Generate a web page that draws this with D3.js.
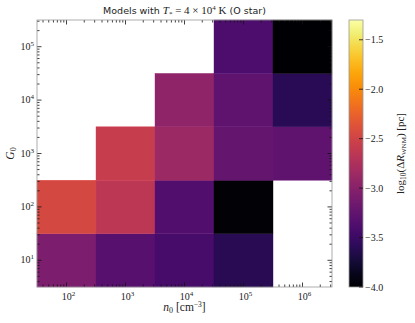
<!DOCTYPE html>
<html>
<head>
<meta charset="utf-8">
<script src="https://cdn.jsdelivr.net/npm/d3@7"></script>
<style>
  body { margin: 0; background: #fff; }
  svg text { font-family: "Liberation Serif", "DejaVu Serif", serif; fill: #222; }
  svg text.title { font-family: "DejaVu Sans", sans-serif; }
</style>
</head>
<body>
<svg id="chart" width="415" height="323"></svg>
<script>

// densities (x), radiation field (y), log10 of width, null where no model
var nExp = [2, 3, 4, 5, 6];
var gExp = [1, 2, 3, 4, 5];
// rows follow gExp (G0 = 10^1 ... 10^5), columns follow nExp
var logDR = [
  [-3.08, -3.32, -3.43, -3.62, null],
  [-2.46, -2.65, -3.35, -3.97, null],
  [null, -2.57, -2.87, -3.24, -3.27],
  [null, null, -2.95, -3.27, -3.60],
  [null, null, null, -3.38, -4.00]
];
var cbTicks = [-1.5, -2.0, -2.5, -3.0, -3.5, -4.0];
var vmin = -4.0, vmax = -1.30;

var svg = d3.select("#chart");
var pl = 37, pr = 332, pt = 20, pb = 287;

var x = d3.scaleLog().domain([Math.pow(10, 1.5), Math.pow(10, 6.5)]).range([pl, pr]);
var y = d3.scaleLog().domain([Math.pow(10, 0.5), Math.pow(10, 5.5)]).range([pb, pt]);
var color = d3.scaleSequential(d3.interpolateInferno).domain([vmin, vmax]);

// cells
var cells = [];
logDR.forEach(function(row, i) {
  row.forEach(function(v, j) {
    if (v !== null) cells.push({ n: nExp[j], g: gExp[i], v: v });
  });
});

svg.append("g").selectAll("rect")
  .data(cells)
  .enter().append("rect")
    .attr("x", function(d) { return x(Math.pow(10, d.n - 0.5)); })
    .attr("y", function(d) { return y(Math.pow(10, d.g + 0.5)); })
    .attr("width", function(d) { return x(Math.pow(10, d.n + 0.5)) - x(Math.pow(10, d.n - 0.5)); })
    .attr("height", function(d) { return y(Math.pow(10, d.g - 0.5)) - y(Math.pow(10, d.g + 0.5)); })
    .attr("fill", function(d) { return color(d.v); })
    .attr("stroke", function(d) { return d3.color(color(d.v)).brighter(0.25); })
    .attr("stroke-width", 0.4);

// minor/major tick values
function logTicks(lo, hi) {
  var out = [];
  for (var e = Math.floor(lo); e <= Math.ceil(hi); e++) {
    for (var m = 1; m <= 9; m++) {
      var val = m * Math.pow(10, e);
      var le = Math.log10(val);
      if (le >= lo && le <= hi) out.push({ v: val, major: m === 1 });
    }
  }
  return out;
}
var xt = logTicks(1.5, 6.5), yt = logTicks(0.5, 5.5);

var ticks = svg.append("g").attr("stroke", "#111").attr("stroke-width", 0.8);
xt.forEach(function(t) {
  var len = t.major ? 4.5 : 2.5, px = x(t.v);
  ticks.append("line").attr("x1", px).attr("x2", px).attr("y1", pb).attr("y2", pb - len);
  ticks.append("line").attr("x1", px).attr("x2", px).attr("y1", pt).attr("y2", pt + len);
});
yt.forEach(function(t) {
  var len = t.major ? 4.5 : 2.5, py = y(t.v);
  ticks.append("line").attr("y1", py).attr("y2", py).attr("x1", pl).attr("x2", pl + len);
  ticks.append("line").attr("y1", py).attr("y2", py).attr("x1", pr).attr("x2", pr - len);
});

svg.append("rect")
  .attr("x", pl).attr("y", pt)
  .attr("width", pr - pl).attr("height", pb - pt)
  .attr("fill", "none").attr("stroke", "#999").attr("stroke-width", 0.8);

// tick labels
function powLabel(sel, e) {
  sel.append("tspan").text("10");
  sel.append("tspan").attr("dy", -4).attr("font-size", 7).text(e);
}
nExp.forEach(function(e) {
  var t = svg.append("text")
    .attr("x", x(Math.pow(10, e)) + 2).attr("y", pb + 13)
    .attr("text-anchor", "middle").attr("font-size", 10);
  powLabel(t, e);
});
gExp.forEach(function(e) {
  var t = svg.append("text")
    .attr("x", pl - 3).attr("y", y(Math.pow(10, e)) + 3)
    .attr("text-anchor", "end").attr("font-size", 10);
  powLabel(t, e);
});

// axis labels
var xl = svg.append("text")
  .attr("x", (pl + pr) / 2).attr("y", 311)
  .attr("text-anchor", "middle").attr("font-size", 11.5);
xl.append("tspan").attr("font-style", "italic").text("n");
xl.append("tspan").attr("font-size", 8).attr("dy", 2).text("0");
xl.append("tspan").attr("dy", -2).text(" [cm");
xl.append("tspan").attr("font-size", 7.5).attr("dy", -4).text("−3");
xl.append("tspan").attr("dy", 4).text("]");

var yl = svg.append("text")
  .attr("transform", "translate(14," + (pt + pb) / 2 + ") rotate(-90)")
  .attr("text-anchor", "middle").attr("font-size", 11.5);
yl.append("tspan").attr("font-style", "italic").text("G");
yl.append("tspan").attr("font-size", 8).attr("dy", 2).text("0");

// title
var tt = svg.append("text").attr("class", "title")
  .attr("x", (pl + pr) / 2).attr("y", 14)
  .attr("text-anchor", "middle").attr("font-size", 9.5);
tt.append("tspan").text("Models with ");
tt.append("tspan").attr("font-family", "Liberation Serif").attr("font-size", 11).attr("font-style", "italic").text("T");
tt.append("tspan").attr("font-family", "Liberation Serif").attr("font-size", 7).attr("dy", 2).text("*");
tt.append("tspan").attr("font-family", "Liberation Serif").attr("font-size", 11).attr("dy", -2).text(" = 4 × 10");
tt.append("tspan").attr("font-family", "Liberation Serif").attr("font-size", 7).attr("dy", -4).text("4");
tt.append("tspan").attr("font-family", "Liberation Serif").attr("font-size", 11).attr("dy", 4).text(" K");
tt.append("tspan").text(" (O star)");

// colorbar
var cbx = 349, cbw = 14;
var cy = d3.scaleLinear().domain([vmin, vmax]).range([pb, pt]);
var grad = svg.append("defs").append("linearGradient")
  .attr("id", "cbgrad").attr("x1", 0).attr("x2", 0).attr("y1", 1).attr("y2", 0);
d3.range(0, 1.0001, 0.05).forEach(function(t) {
  grad.append("stop").attr("offset", t).attr("stop-color", d3.interpolateInferno(t));
});
svg.append("rect")
  .attr("x", cbx).attr("y", pt).attr("width", cbw).attr("height", pb - pt)
  .attr("fill", "url(#cbgrad)").attr("stroke", "#999").attr("stroke-width", 0.8);

cbTicks.forEach(function(v) {
  svg.append("line")
    .attr("x1", cbx + cbw - 4).attr("x2", cbx + cbw)
    .attr("y1", cy(v)).attr("y2", cy(v))
    .attr("stroke", "#111").attr("stroke-width", 0.8);
  svg.append("text")
    .attr("x", cbx + cbw + 2).attr("y", cy(v) + 3.5)
    .attr("font-size", 10)
    .text(d3.format(".1f")(v).replace("-", "−"));
});

var cl = svg.append("text")
  .attr("transform", "translate(404," + (pt + pb) / 2 + ") rotate(-90)")
  .attr("text-anchor", "middle").attr("font-size", 11);
cl.append("tspan").text("log");
cl.append("tspan").attr("font-size", 7.5).attr("dy", 2).text("10");
cl.append("tspan").attr("dy", -2).text("(Δ");
cl.append("tspan").attr("font-style", "italic").text("R");
cl.append("tspan").attr("font-size", 7).attr("dy", 2).text("WNM");
cl.append("tspan").attr("dy", -2).text(") [pc]");

</script>
</body>
</html>
